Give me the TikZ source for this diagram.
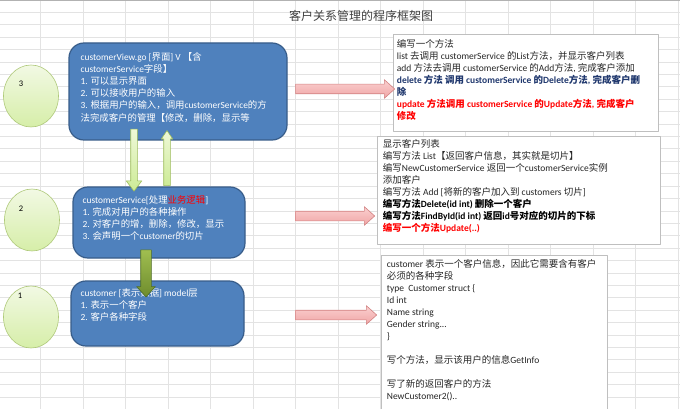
\documentclass[tikz,border=0pt]{standalone}
\usepackage{fontspec}
\setmainfont{Carlito}
\newfontfamily\cjk{Noto Sans CJK SC}
\usetikzlibrary{shapes.arrows,shapes.geometric}
% switch to the CJK font for Chinese characters
\XeTeXinterchartokenstate=1
\chardef\cjkclass=7
\newcount\cjkcode
\def\setcjkrange#1#2{\cjkcode=#1 \loop\XeTeXcharclass\cjkcode=\cjkclass\relax\ifnum\cjkcode<#2 \advance\cjkcode by 1 \repeat}
\setcjkrange{"3000}{"303F}
\setcjkrange{"4E00}{"9FFF}
\setcjkrange{"FF00}{"FFEF}
\def\setcjkswitch#1{%
  \XeTeXinterchartoks #1 \cjkclass={\cjk}%
  \XeTeXinterchartoks \cjkclass #1={\rmfamily}}
\setcjkswitch{0}\setcjkswitch{1}\setcjkswitch{2}\setcjkswitch{3}\setcjkswitch{4095}
\definecolor{boxblue}{RGB}{79,129,189}
\definecolor{boxborder}{RGB}{56,93,138}
\definecolor{navy}{RGB}{32,56,110}
\definecolor{leafline}{RGB}{155,187,89}
\definecolor{pinkline}{RGB}{210,130,130}
\definecolor{oliveline}{RGB}{80,110,40}
\begin{document}
\begin{tikzpicture}[x=1pt, y=-1pt, line join=round,
  grid line/.style={draw=black!11, line width=0.6pt},
  bluebox/.style={draw=boxborder, line width=1.2pt, fill=boxblue, rounded corners=15pt, inner sep=0pt},
  bluetext/.style={text=white, anchor=north west, inner sep=0pt, align=left, font=\fontsize{9.4}{12.2}\selectfont},
  notebox/.style={draw=black!25, fill=white, line width=0.6pt, inner sep=0pt},
  notetext/.style={text=black!85, anchor=north west, inner sep=0pt, align=left, font=\fontsize{9.5}{12}\selectfont},
  layer/.style={ellipse, draw=leafline!80, line width=0.6pt, top color={rgb,255:red,242;green,249;blue,228}, bottom color={rgb,255:red,214;green,238;blue,168}, minimum width=55pt, minimum height=62pt, inner sep=0pt},
  layernum/.style={font=\fontsize{8.5}{10}\selectfont, inner sep=0pt},
  pinkarrow/.style={single arrow, draw=pinkline, line width=0.6pt, top color={rgb,255:red,250;green,208;blue,208}, bottom color={rgb,255:red,240;green,165;blue,165}, inner xsep=0pt, inner ysep=4.5pt, single arrow head extend=4.5pt, single arrow tip angle=84, minimum width=0pt},
  leafarrow/.style={single arrow, draw=leafline, line width=0.6pt, top color={rgb,255:red,238;green,248;blue,215}, bottom color={rgb,255:red,205;green,235;blue,150}, inner xsep=0pt, inner ysep=3pt, minimum width=0pt},
  olivearrow/.style={single arrow, draw=oliveline, line width=0.6pt, top color={rgb,255:red,160;green,190;blue,80}, bottom color={rgb,255:red,110;green,140;blue,45}, inner xsep=0pt, inner ysep=5pt, single arrow head extend=4pt, single arrow tip angle=84, minimum width=0pt}]
\useasboundingbox (0,0) rectangle (680,409);
% sheet grid
\fill[white] (0,0) rectangle (680,409);
\foreach \c in {1,...,16}
  \draw[grid line] (42.5*\c-2,0) -- (42.5*\c-2,409);
\foreach \r in {1,...,32}
  \draw[grid line] (0,12.4*\r) -- (680,12.4*\r);
\draw[black!30, line width=1pt] (0,0.5) -- (680,0.5);
% title
\node[text=black!75, font=\fontsize{12}{14}\selectfont] (title) at (361,15.5) {客户关系管理的程序框架图};
% layer numbers
\node[layer] (l3) at (31,96) {};
\node[layer] (l2) at (32,220) {};
\node[layer] (l1) at (31,317) {};
\node[layernum] (n3) at (21,84) {3};
\node[layernum] (n2) at (21,209) {2};
\node[layernum] (n1) at (20,296) {1};
% layers
\node[bluebox, minimum width=218pt, minimum height=97pt] (view) at (178,91.5) {};
\node[bluebox, minimum width=172pt, minimum height=71pt] (service) at (159,222.5) {};
\node[bluebox, minimum width=173pt, minimum height=65pt] (model) at (157.5,313.5) {};
\node[bluetext] (viewtext) at ([shift={(12,9.5)}]view.north west)
  {customerView.go [界面] V 【含\\customerService字段】\\1. 可以显示界面\\2. 可以接收用户的输入\\3. 根据用户的输入，调用customerService的方\\法完成客户的管理【修改，删除，显示等};
\node[bluetext] (servicetext) at ([shift={(10,8.5)}]service.north west)
  {customerService[处理{\color{red}业务逻辑}]\\1. 完成对用户的各种操作\\2. 对客户的增，删除，修改，显示\\3. 会声明一个customer的切片};
\node[bluetext] (modeltext) at ([shift={(10,7.5)}]model.north west)
  {customer [表示数据] model层\\1. 表示一个客户\\2. 客户各种字段};
% notes
\node[notebox, minimum width=265pt, minimum height=97pt] (noteA) at (525.5,82.5) {};
\node[notebox, minimum width=283pt, minimum height=108pt] (noteB) at (518.5,190) {};
\node[notebox, minimum width=226pt, minimum height=157pt] (noteC) at (494,333.5) {};
\node[notetext] (noteAtext) at ([shift={(4,5.5)}]noteA.north west)
  {编写一个方法\\list 去调用 customerService 的List方法，并显示客户列表\\add 方法去调用 customerService 的Add方法, 完成客户添加\\
   {\bfseries\color{navy}delete 方法 调用 customerService 的Delete方法, 完成客户删}\\{\bfseries\color{navy}除}\\
   {\bfseries\color{red}update 方法调用 customerService 的Update方法, 完成客户}\\{\bfseries\color{red}修改}};
\node[notetext] (noteBtext) at ([shift={(6,3.5)}]noteB.north west)
  {显示客户列表\\编写方法 List【返回客户信息，其实就是切片】\\编写NewCustomerService 返回一个customerService实例\\添加客户\\编写方法 Add [将新的客户加入到 customers 切片]\\
   {\bfseries\color{black}编写方法Delete(id int) 删除一个客户}\\{\bfseries\color{black}编写方法FindById(id int) 返回id号对应的切片的下标}\\{\bfseries\color{red}编写一个方法Update(..)}};
\node[notetext] (noteCtext) at ([shift={(6,4.5)}]noteC.north west)
  {customer 表示一个客户信息，因此它需要含有客户\\必须的各种字段\\type~ Customer struct \{\\Id int\\Name string\\Gender string...\\\}\\[12pt]写个方法，显示该用户的信息GetInfo\\[12pt]写了新的返回客户的方法\\NewCustomer2()..};
% arrows between layers
\node[leafarrow, rotate=-90, minimum height=62pt, single arrow head extend=4.5pt, single arrow tip angle=74] (down) at (134,158) {};
\node[leafarrow, rotate=90, minimum height=55pt, single arrow head extend=2.5pt, single arrow tip angle=69] (up) at (167,160.5) {};
\node[olivearrow, rotate=-90, minimum height=47pt] (tomodel) at (146,270.5) {};
% arrows to notes
\node[pinkarrow, minimum height=99pt] (toA) at (342.5,89) {};
\node[pinkarrow, minimum height=79pt] (toB) at (332.5,216) {};
\node[pinkarrow, minimum height=81pt] (toC) at (333.5,315) {};
\end{tikzpicture}
\end{document}
